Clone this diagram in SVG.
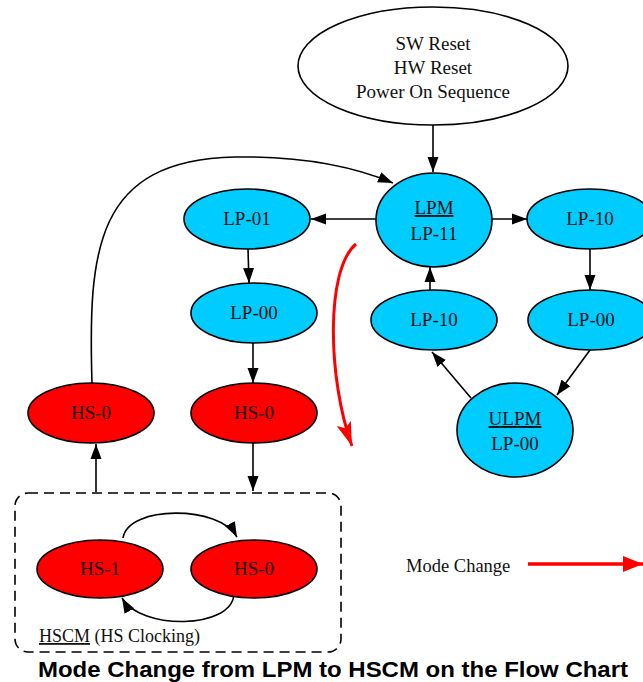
<svg xmlns="http://www.w3.org/2000/svg" width="643" height="682" viewBox="0 0 643 682">
<defs>
<style>
.n{stroke:#000;stroke-width:1.6}
.lp{fill:#00ccff}
.hs{fill:#ff0000}
.w{fill:#fff}
.t{font-family:"Liberation Serif","Times New Roman",serif;font-size:19px;fill:#111;text-anchor:middle}
.e{fill:none;stroke:#000;stroke-width:1.6}
</style>
<marker id="ah" markerUnits="userSpaceOnUse" markerWidth="16" markerHeight="12" refX="15" refY="6" orient="auto">
<path d="M0,0.5 L15,6 L0,11.5 Z" fill="#000"/>
</marker>
<marker id="rh" markerUnits="userSpaceOnUse" markerWidth="26" markerHeight="18" refX="24" refY="9" orient="auto">
<path d="M0,1.5 L24,9 L0,16.5 L5,9 Z" fill="#ff0000"/>
</marker>
<marker id="rh2" markerUnits="userSpaceOnUse" markerWidth="22" markerHeight="18" refX="20" refY="9" orient="auto">
<path d="M0,1 L20,9 L0,17 Z" fill="#ff0000"/>
</marker>
</defs>
<rect width="643" height="682" fill="#fff"/>

<g id="connectors">
<path class="e" d="M433,125 L433,172" marker-end="url(#ah)"/>
<path class="e" d="M376,219 L311,219" marker-end="url(#ah)"/>
<path class="e" d="M492,219 L527,219" marker-end="url(#ah)"/>
<path class="e" d="M248,249 L249,283" marker-end="url(#ah)"/>
<path class="e" d="M253,343 L253,383" marker-end="url(#ah)"/>
<path class="e" d="M590,249 L590,290" marker-end="url(#ah)"/>
<path class="e" d="M590,350 L557,395" marker-end="url(#ah)"/>
<path class="e" d="M471,398 L432,352" marker-end="url(#ah)"/>
<path class="e" d="M430,290 L430,267" marker-end="url(#ah)"/>
<path class="e" d="M92,383 C88,250 95,160 235,157 C300,156 350,165 393,183" marker-end="url(#ah)"/>
<path class="e" d="M253,443 L253,491" marker-end="url(#ah)"/>
<path class="e" d="M96,492 L96,444" marker-end="url(#ah)"/>
<path class="e" d="M123,538 C128,505 220,505 237,537" marker-end="url(#ah)"/>
<path class="e" d="M234,594 C232,630 140,630 122,598" marker-end="url(#ah)"/>
<path d="M356,244 C325,270 328,380 352,446" fill="none" stroke="#ff0000" stroke-width="3" marker-end="url(#rh)"/>
<path d="M528,564 L643,564" fill="none" stroke="#ff0000" stroke-width="3.5" marker-end="url(#rh2)"/>
</g>

<g id="cluster-hscm">
<rect x="15" y="493" width="326" height="159" rx="13" ry="13" fill="none" stroke="#000" stroke-width="1.6" stroke-dasharray="10,6"/>
<text x="39" y="642" font-family="Liberation Serif,'Times New Roman',serif" font-size="18" fill="#111"><tspan text-decoration="underline">HSCM</tspan> (HS Clocking)</text>
</g>

<g id="reset">
<ellipse class="n w" cx="433" cy="66" rx="135" ry="59"/>
<text class="t" x="433" y="50">SW Reset</text>
<text class="t" x="433" y="74">HW Reset</text>
<text class="t" x="433" y="98">Power On Sequence</text>
</g>

<g id="lpm">
<ellipse class="n lp" cx="434" cy="220" rx="58" ry="47"/>
<text class="t" x="434" y="214" text-decoration="underline">LPM</text>
<text class="t" x="434" y="240">LP-11</text>
</g>

<g id="lp01">
<ellipse class="n lp" cx="247" cy="219" rx="63" ry="30"/>
<text class="t" x="247" y="225">LP-01</text>
</g>

<g id="lp00-left">
<ellipse class="n lp" cx="254" cy="313" rx="63" ry="30"/>
<text class="t" x="254" y="319">LP-00</text>
</g>

<g id="lp10-right">
<ellipse class="n lp" cx="590" cy="219" rx="63" ry="30"/>
<text class="t" x="590" y="225">LP-10</text>
</g>

<g id="lp00-right">
<ellipse class="n lp" cx="591" cy="320" rx="63" ry="30"/>
<text class="t" x="591" y="326">LP-00</text>
</g>

<g id="lp10-mid">
<ellipse class="n lp" cx="434" cy="320" rx="63" ry="30"/>
<text class="t" x="434" y="326">LP-10</text>
</g>

<g id="ulpm">
<ellipse class="n lp" cx="515" cy="430" rx="58" ry="47"/>
<text class="t" x="515" y="425" text-decoration="underline">ULPM</text>
<text class="t" x="515" y="450">LP-00</text>
</g>

<g id="hs0-left">
<ellipse class="n hs" cx="91" cy="413" rx="63" ry="30"/>
<text class="t" x="91" y="419">HS-0</text>
</g>

<g id="hs0-mid">
<ellipse class="n hs" cx="254" cy="413" rx="63" ry="30"/>
<text class="t" x="254" y="419">HS-0</text>
</g>

<g id="hs1">
<ellipse class="n hs" cx="100" cy="569" rx="63" ry="29"/>
<text class="t" x="100" y="575">HS-1</text>
</g>

<g id="hs0-bottom">
<ellipse class="n hs" cx="254" cy="569" rx="63" ry="29"/>
<text class="t" x="254" y="575">HS-0</text>
</g>

<g id="legend">
<text x="406" y="572" font-family="Liberation Serif,'Times New Roman',serif" font-size="18.5" fill="#111">Mode Change</text>
</g>

<text x="38" y="677" font-family="Liberation Sans,Arial,sans-serif" font-size="22" font-weight="bold" fill="#000" textLength="590" lengthAdjust="spacingAndGlyphs">Mode Change from LPM to HSCM on the Flow Chart</text>
</svg>
